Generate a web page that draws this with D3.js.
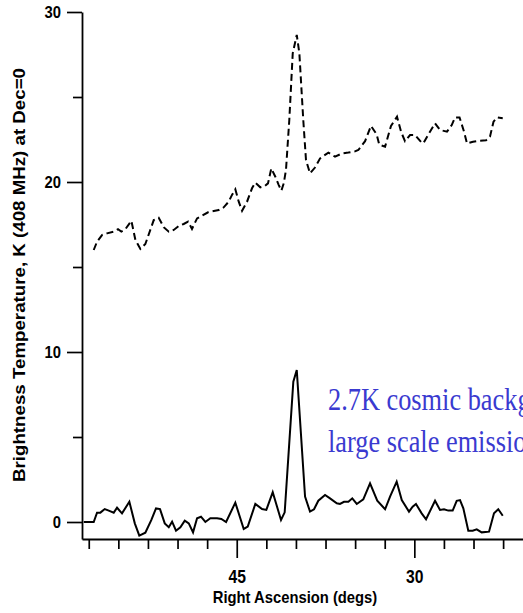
<!DOCTYPE html>
<html>
<head>
<meta charset="utf-8">
<script src="https://cdn.jsdelivr.net/npm/d3@7/dist/d3.min.js"></script>
<style>
  body { margin: 0; background: #fff; }
  svg { display: block; }
</style>
</head>
<body>
<script>
// upper trace (dashed) - total 408 MHz brightness temperature
var raUpper = [57.08, 56.80, 56.38, 55.96, 55.39, 55.03, 54.75, 54.41, 53.90, 53.56,
  53.14, 52.72, 52.30, 52.01, 51.59, 51.17, 50.74, 50.32, 49.90, 49.48,
  49.11, 48.78, 48.35, 47.93, 47.42, 46.94, 46.52, 46.10, 45.68, 45.40,
  45.12, 44.83, 44.55, 44.13, 43.71, 43.43, 43.01, 42.64, 42.36, 42.08,
  41.74, 41.45, 41.23, 41.03, 40.84, 40.56, 40.27, 39.93, 39.71, 39.38,
  39.15, 38.81, 38.39, 37.96, 37.26, 36.70, 36.13, 35.57, 35.01, 34.73,
  34.16, 33.66, 33.18, 32.96, 32.47, 31.97, 31.46, 31.12, 30.79, 30.36,
  29.94, 29.43, 29.24, 28.76, 28.25, 27.83, 27.24, 26.84, 26.56, 26.18,
  25.80, 25.55, 25.04, 24.54, 23.94, 23.61, 23.31, 23.01, 22.53];
var tUpper = [16.0, 16.49, 16.88, 16.98, 17.08, 17.22, 17.08, 17.22, 17.72, 16.59,
  16.06, 16.35, 17.18, 17.76, 17.9, 17.34, 17.08, 17.18, 17.41, 17.53,
  17.67, 17.24, 17.86, 18.02, 18.22, 18.29, 18.35, 18.51, 18.84, 19.24,
  19.57, 18.84, 18.31, 18.84, 19.63, 19.96, 19.69, 19.76, 19.92, 20.8,
  20.31, 19.82, 19.49, 19.92, 20.71, 23.65, 27.57, 28.65, 27.57, 23.65,
  21.29, 20.51, 20.85, 21.39, 21.73, 21.49, 21.67, 21.73, 21.8, 21.88,
  22.4, 23.3, 22.8, 22.2, 22.08, 23.3, 23.84, 22.96, 22.4, 22.76,
  22.76, 22.35, 22.27, 22.86, 23.45, 23.06, 22.96, 23.35, 23.8, 23.8,
  22.96, 22.27, 22.37, 22.43, 22.45, 22.67, 23.55, 23.8, 23.75];

// lower trace (solid) - after background removal
var raLower = [57.92, 57.08, 56.80, 56.52, 56.15, 55.81, 55.39, 55.11, 54.69, 54.07,
  53.61, 53.23, 52.72, 52.21, 51.82, 51.48, 51.08, 50.74, 50.46, 50.13,
  49.76, 49.39, 49.05, 48.69, 48.35, 48.02, 47.65, 47.23, 46.66, 46.30,
  45.90, 45.12, 44.41, 44.07, 43.43, 42.86, 42.50, 41.96, 41.26, 40.95,
  40.22, 39.93, 39.23, 38.81, 38.47, 38.11, 37.54, 37.12, 36.55, 36.28,
  35.94, 35.57, 35.24, 34.86, 34.31, 33.74, 33.13, 32.47, 32.05, 31.49,
  31.06, 30.45, 30.14, 29.86, 29.38, 29.01, 28.25, 27.83, 27.49, 27.13,
  26.76, 26.42, 26.14, 25.86, 25.44, 25.07, 24.73, 24.31, 23.69, 23.27,
  22.91, 22.53];
var tLower = [0, 0, 0.55, 0.55, 0.76, 0.67, 0.55, 0.84, 0.51, 1.19,
  -0.08, -0.8, -0.63, 0.12, 0.8, 0.76, -0.08, -0.31, 0.02, -0.51,
  -0.31, 0.08, -0.08, -0.61, 0.22, 0.31, 0, 0.22, 0.22, 0.18,
  0, 1.14, -0.41, -0.27, 1.06, 0.76, 0.71, 1.75, 0.12, 0.57,
  8.25, 8.94, 1.5, 0.61, 0.75, 1.25, 1.59, 1.39, 1.10, 1.06,
  1.19, 1.19, 1.39, 1.06, 1.33, 2.27, 1.25, 0.75, 1.49, 2.37,
  1.29, 0.61, 0.9, 1.06, 0.51, 0.16, 1.25, 0.71, 0.75, 0.67,
  0.67, 1.25, 1.29, 0.8, -0.51, -0.51, -0.43, -0.61, -0.57, 0.51,
  0.75, 0.37];

var yMajor = [0, 10, 20, 30];
var yMinor = [5, 15, 25];
var xMajor = [45, 30];
var xMinor = [57.5, 55, 52.5, 50, 47.5, 42.5, 40, 37.5, 35, 32.5, 27.5, 25, 22.5];
var noteLines = ["2.7K cosmic background and", "large scale emission removed"];

var width = 523, height = 613;
var font = "'Liberation Sans', Arial, Helvetica, sans-serif";
var squash = 0.87;   // the original figure is a bit stretched vertically

var svg = d3.select("body").append("svg")
  .attr("width", width)
  .attr("height", height);

var x = d3.scaleLinear().domain([58.07, 20.82]).range([82, 523]);
var y = d3.scaleLinear().domain([-1, 30]).range([539, 12]);

// y axis: minor ticks then labelled major ticks
svg.append("g")
  .attr("transform", "translate(82,0)")
  .call(d3.axisLeft(y).tickValues(yMinor).tickSize(9).tickFormat("").tickSizeOuter(0))
  .call(g => g.select(".domain").remove());

var yAxis = svg.append("g")
  .attr("transform", "translate(82,0)")
  .call(d3.axisLeft(y).tickValues(yMajor).tickSize(15).tickSizeOuter(0));
yAxis.select(".domain").attr("stroke-width", 1.8);
yAxis.selectAll("text")
  .attr("x", null)
  .attr("dy", "0.34em")
  .attr("transform", "translate(-21,0) scale(" + squash + ",1)")
  .style("font-family", font)
  .style("font-weight", "bold")
  .style("font-size", "17px");

// x axis
svg.append("g")
  .attr("transform", "translate(0,539)")
  .call(d3.axisBottom(x).tickValues(xMinor).tickSize(10).tickFormat("").tickSizeOuter(0))
  .call(g => g.select(".domain").remove());

var xAxis = svg.append("g")
  .attr("transform", "translate(0,539)")
  .call(d3.axisBottom(x).tickValues(xMajor).tickSize(19).tickSizeOuter(0));
xAxis.select(".domain").attr("stroke-width", 2.2);
xAxis.selectAll("text")
  .attr("y", null)
  .attr("dy", null)
  .attr("transform", "translate(0,44) scale(" + squash + ",1)")
  .style("font-family", font)
  .style("font-weight", "bold")
  .style("font-size", "18px");

svg.selectAll(".tick line").attr("stroke-width", 1.7);

// axis titles
svg.append("text")
  .attr("transform", "translate(295,603) scale(" + squash + ",1)")
  .attr("text-anchor", "middle")
  .style("font-family", font)
  .style("font-weight", "bold")
  .style("font-size", "17px")
  .text("Right Ascension (degs)");

svg.append("text")
  .attr("transform", "translate(25,275) scale(" + squash + ",1) rotate(-90)")
  .attr("text-anchor", "middle")
  .attr("textLength", 414)
  .attr("lengthAdjust", "spacingAndGlyphs")
  .style("font-family", font)
  .style("font-weight", "bold")
  .style("font-size", "18px")
  .text("Brightness Temperature, K (408 MHz) at Dec=0");

// traces
var line = d3.line()
  .x(d => x(d[0]))
  .y(d => y(d[1]));

svg.append("path")
  .datum(d3.zip(raUpper, tUpper))
  .attr("d", line)
  .attr("fill", "none")
  .attr("stroke", "#000")
  .attr("stroke-width", 2)
  .attr("stroke-dasharray", "7,4");

svg.append("path")
  .datum(d3.zip(raLower, tLower))
  .attr("d", line)
  .attr("fill", "none")
  .attr("stroke", "#000")
  .attr("stroke-width", 2);

// blue annotation, runs off the right edge like the original
svg.selectAll(".note")
  .data(noteLines)
  .enter()
  .append("text")
  .attr("class", "note")
  .attr("transform", (d, i) => "translate(328," + (410 + i * 41.5) + ") scale(0.85,1)")
  .style("font-family", "'Liberation Serif', 'Times New Roman', serif")
  .style("font-size", "31px")
  .attr("fill", "#3a3ad0")
  .text(d => d);
</script>
</body>
</html>
